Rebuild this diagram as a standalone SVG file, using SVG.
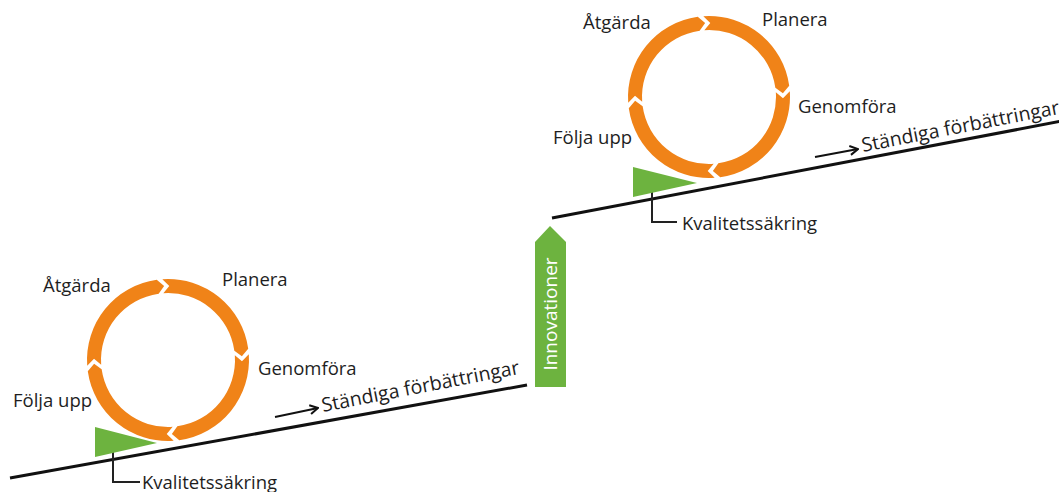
<svg xmlns="http://www.w3.org/2000/svg" xmlns:xlink="http://www.w3.org/1999/xlink" width="1059" height="492" viewBox="0 0 1059 492">
<style>
.lbl{font-family:"Open Sans","Liberation Sans",sans-serif;font-size:18.5px;fill:#1e1e1e}
.imp{font-family:"Open Sans","Liberation Sans",sans-serif;font-size:19.5px;fill:#1e1e1e}
.seg{fill:#f08318}
.tri{fill:#6db33f}
.ln{stroke:#111;stroke-width:3;fill:none}
.br{stroke:#222;stroke-width:2;fill:none}
.sm{stroke:#111;stroke-width:2;fill:none}
.inno{font-family:"Open Sans","Liberation Sans",sans-serif;font-size:19px;fill:#fff}
</style>
<defs>
<path id="seg" d="M59.24,-55.24 A81,81 0 0 1 59.24,55.24 L49.51,54.99 L49.00,45.69 A67,67 0 0 0 49.00,-45.69 L58.31,-45.56 Z"/>
<marker id="ah" viewBox="0 0 12 12" refX="11" refY="6" markerWidth="12" markerHeight="12" markerUnits="userSpaceOnUse" orient="auto">
<polyline points="3,1.5 11,6 3,10.5" fill="none" stroke="#111" stroke-width="2"/>
</marker>
</defs>
<rect width="1059" height="492" fill="#fff"/>
<g id="connectors">
<line class="ln" x1="10" y1="478" x2="527" y2="385"/>
<line class="ln" x1="552" y1="218" x2="1062" y2="121"/>
<path class="br" d="M113,443 V482 H140"/>
<path class="br" d="M652,183 V222 H677"/>
<line class="sm" x1="275" y1="417" x2="318" y2="408" marker-end="url(#ah)"/>
<line class="sm" x1="815" y1="157" x2="858" y2="149" marker-end="url(#ah)"/>
</g>
<g id="cycle-left">
<use xlink:href="#seg" class="seg" transform="translate(168,360) rotate(-51)"/>
<use xlink:href="#seg" class="seg" transform="translate(168,360) rotate(39)"/>
<use xlink:href="#seg" class="seg" transform="translate(168,360) rotate(129)"/>
<use xlink:href="#seg" class="seg" transform="translate(168,360) rotate(219)"/>
<text class="lbl" x="43" y="292">Åtgärda</text>
<text class="lbl" x="222" y="286">Planera</text>
<text class="lbl" x="258" y="375">Genomföra</text>
<text class="lbl" x="13" y="407">Följa upp</text>
</g>
<g id="qa-left">
<polygon class="tri" points="95,427 95,457 157,443"/>
<text class="lbl" x="142" y="489">Kvalitetssäkring</text>
</g>
<g id="improve-left">
<text class="imp" transform="translate(323,412) rotate(-11)">Ständiga förbättringar</text>
</g>
<g id="innovation">
<polygon class="tri" points="535,242 550,226 566,242 566,387 535,387"/>
<text class="inno" text-anchor="middle" transform="translate(557,314) rotate(-90)">Innovationer</text>
</g>
<g id="cycle-right">
<use xlink:href="#seg" class="seg" transform="translate(709,97) rotate(-51)"/>
<use xlink:href="#seg" class="seg" transform="translate(709,97) rotate(39)"/>
<use xlink:href="#seg" class="seg" transform="translate(709,97) rotate(129)"/>
<use xlink:href="#seg" class="seg" transform="translate(709,97) rotate(219)"/>
<text class="lbl" x="583" y="29">Åtgärda</text>
<text class="lbl" x="762" y="26">Planera</text>
<text class="lbl" x="798" y="113">Genomföra</text>
<text class="lbl" x="553" y="144">Följa upp</text>
</g>
<g id="qa-right">
<polygon class="tri" points="633,167 633,197 697,183"/>
<text class="lbl" x="682" y="230">Kvalitetssäkring</text>
</g>
<g id="improve-right">
<text class="imp" transform="translate(863,152) rotate(-11)">Ständiga förbättringar</text>
</g>
</svg>
